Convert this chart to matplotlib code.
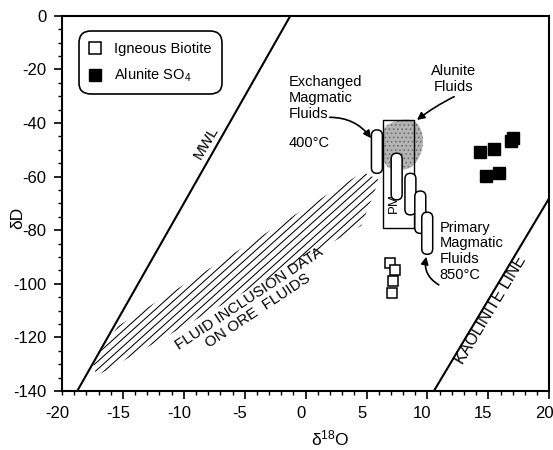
import matplotlib
matplotlib.use("Agg")
import matplotlib.pyplot as plt
import numpy as np
from matplotlib.patches import Polygon, Rectangle, FancyBboxPatch
from matplotlib.lines import Line2D
from matplotlib.ticker import MultipleLocator
from matplotlib.transforms import ScaledTranslation

plt.rcParams.update({
	"font.family": ["Liberation Sans", "DejaVu Sans"],
	"mathtext.default": "regular",
	"axes.unicode_minus": False,
	"hatch.linewidth": 0.7,
})

# meteoric water line and kaolinite line (dD = a*d18O + b)
mwl = (8.0, 10.0)
kaol = (7.6, -220.0)

# fluid inclusion field outline (d18O, dD)
fi_x = [-17.17, -17.45, -15.38, 4.72, 6.02, 4.56]
fi_y = [-134.4, -129.5, -115.7, -58.3, -61.3, -78.4]

# alunite fluids field outline
af_x = [6.32, 7.16, 8.22, 9.03, 9.52, 9.68, 9.44, 8.87, 8.06, 7.16, 6.47, 6.32]
af_y = [-41.9, -39.5, -38.5, -39.3, -42.6, -47.1, -52.0, -56.1, -57.7, -57.6, -55.7, -50.1]

# primary magmatic box
pm_box = (6.32, 8.89, -79.3, -38.9)

# magmatic fluid bars
bar_x = [5.85, 7.47, 8.60, 9.41, 9.98]
bar_top = [-42.6, -51.3, -58.8, -65.4, -73.3]
bar_bot = [-58.8, -68.7, -74.3, -81.2, -89.0]

# samples
biot_x = [6.94, 7.36, 7.18, 7.06]
biot_y = [-92.2, -95.0, -99.1, -103.5]
alun_x = [14.32, 15.48, 16.82, 16.98, 14.81, 15.84]
alun_y = [-50.7, -49.8, -46.6, -45.7, -59.7, -58.8]

xticks = [-15, -10, -5, 0, 5, 10, 15, 20]
yticks = [-140, -120, -100, -80, -60, -40, -20, 0]


def smooth(xs, ys, n=3):
	p = np.column_stack([xs, ys])
	for _ in range(n):
		q = np.roll(p, -1, axis=0)
		p = np.column_stack([0.75 * p + 0.25 * q, 0.25 * p + 0.75 * q]).reshape(-1, 2)
	return p


fig = plt.figure(figsize=(5.53, 4.5), dpi=100)
ax = fig.add_axes([0.1121, 0.1311, 0.8812, 0.834])
ax.set_xlim(-20, 20)
ax.set_ylim(-140, 0)

# lines
xx = np.array([-20, 20])
for a, b in (mwl, kaol):
	ax.plot(xx, a * xx + b, color="black", lw=1.5, zorder=2)

# hatched fluid inclusion field: parallel strokes clipped to the outline
fi_patch = Polygon(np.column_stack([fi_x, fi_y]), closed=True, facecolor="none",
	edgecolor="none", zorder=1)
ax.add_patch(fi_patch)
fig.canvas.draw()
px_x = ax.transData.transform([[1, 0]])[0][0] - ax.transData.transform([[0, 0]])[0][0]
px_y = ax.transData.transform([[0, 1]])[0][1] - ax.transData.transform([[0, 0]])[0][1]
ang = np.radians(42)
slope = np.tan(ang) * px_x / px_y
step = 5.8 / np.cos(ang) / px_y
for c in np.arange(-260, 60, step):
	ln, = ax.plot(xx, slope * xx + c, color="black", lw=0.75, zorder=1)
	ln.set_clip_path(fi_patch)

ax.add_patch(Polygon(smooth(af_x, af_y), closed=True, facecolor="#b4b4b4",
	edgecolor="#6e6e6e", lw=0, hatch="....", zorder=2))
x0, x1, y0, y1 = pm_box
ax.add_patch(Rectangle((x0, y0), x1 - x0, y1 - y0, fill=False, lw=1.0, zorder=3))
ax.text(7.24, -70.0, "PM", rotation=90, ha="center", va="center", fontsize=9.5, zorder=3.5)

w = 0.9
asp = px_x / px_y
for x, t, b in zip(bar_x, bar_top, bar_bot):
	ax.add_patch(FancyBboxPatch((x - w / 2, b), w, t - b,
		boxstyle=f"round,pad=0,rounding_size={w / 2}", mutation_aspect=asp,
		facecolor="white", edgecolor="black", lw=1.1, zorder=4))

ax.plot(biot_x, biot_y, "s", ms=7, mfc="white", mec="black", mew=1.1, zorder=5)
ax.plot(alun_x, alun_y, "s", ms=8.5, mfc="black", mec="black", zorder=5)

# labels on the plot
ax.text(-8.2, -47.5, "MWL", rotation=60, ha="center", va="center", fontsize=11,
	rotation_mode="anchor")
ax.text(15.2, -109.8, "KAOLINITE LINE", rotation=59, ha="center", va="center",
	fontsize=11.5, rotation_mode="anchor")
ax.text(-4.26, -107.9, "FLUID INCLUSION DATA\nON ORE  FLUIDS", rotation=33.5,
	ha="center", va="center", multialignment="center", fontsize=11,
	linespacing=1.1, rotation_mode="anchor")

ax.text(-1.41, -22.3, "Exchanged\nMagmatic\nFluids", ha="left", va="top",
	fontsize=10.5, linespacing=1.15)
ax.text(-1.41, -44.8, "400°C", ha="left", va="top", fontsize=10.5)
ax.text(10.98, -76.5, "Primary\nMagmatic\nFluids\n850°C", ha="left", va="top",
	fontsize=10.5, linespacing=1.15)
ax.text(12.16, -18.2, "Alunite\nFluids", ha="center", va="top", fontsize=10.5,
	linespacing=1.15)

arr = dict(arrowstyle="-|>", color="black", lw=1.2, mutation_scale=11, shrinkA=0, shrinkB=0)
ax.annotate("", xy=(9.14, -38.9), xytext=(12.19, -30.2),
	arrowprops={**arr, "connectionstyle": "arc3,rad=0.05"})
ax.annotate("", xy=(5.37, -45.7), xytext=(1.98, -37.9),
	arrowprops={**arr, "connectionstyle": "arc3,rad=-0.25"})
ax.annotate("", xy=(9.9, -89.9), xytext=(10.93, -100.4),
	arrowprops={**arr, "connectionstyle": "arc3,rad=-0.35"})

# legend
handles = [
	Line2D([], [], ls="none", marker="s", ms=8, mfc="white", mec="black", mew=1.1),
	Line2D([], [], ls="none", marker="s", ms=8, mfc="black", mec="black"),
]
leg = ax.legend(handles, ["Igneous Biotite", "Alunite SO$_4$"], loc="upper left",
	bbox_to_anchor=(0.035, 0.958), borderaxespad=0, fontsize=10.5, handlelength=0.8,
	handletextpad=0.9, labelspacing=0.75, borderpad=0.7, fancybox=True, framealpha=1,
	edgecolor="black")
frame = leg.get_frame()
frame.set_linewidth(1.2)
frame.set_boxstyle("round", pad=0.0, rounding_size=0.8)

# axes
for s in ax.spines.values():
	s.set_linewidth(1.5)
ax.set_xticks(xticks)
ax.set_yticks(yticks)
ax.xaxis.set_minor_locator(MultipleLocator(1))
ax.yaxis.set_minor_locator(MultipleLocator(5))
ax.tick_params(which="major", direction="out", length=6, width=1.2, labelsize=12, pad=5)
ax.tick_params(which="minor", direction="out", length=3, width=1.0)
shift = ScaledTranslation(-5 / 100, 0, fig.dpi_scale_trans)
for lab in ax.get_xticklabels():
	lab.set_transform(lab.get_transform() + shift)
ax.annotate("-20", xy=(-20, -140), xytext=(-3.6, -11), textcoords="offset points",
	ha="center", va="top", fontsize=12, annotation_clip=False)
ax.set_xlabel("δ$^{18}$O", fontsize=12.5)
ax.set_ylabel("δD", fontsize=12.5)
ax.xaxis.set_label_coords(0.55, -0.1)
ax.yaxis.set_label_coords(-0.076, 0.46)

fig.savefig("out.png", dpi=100)
